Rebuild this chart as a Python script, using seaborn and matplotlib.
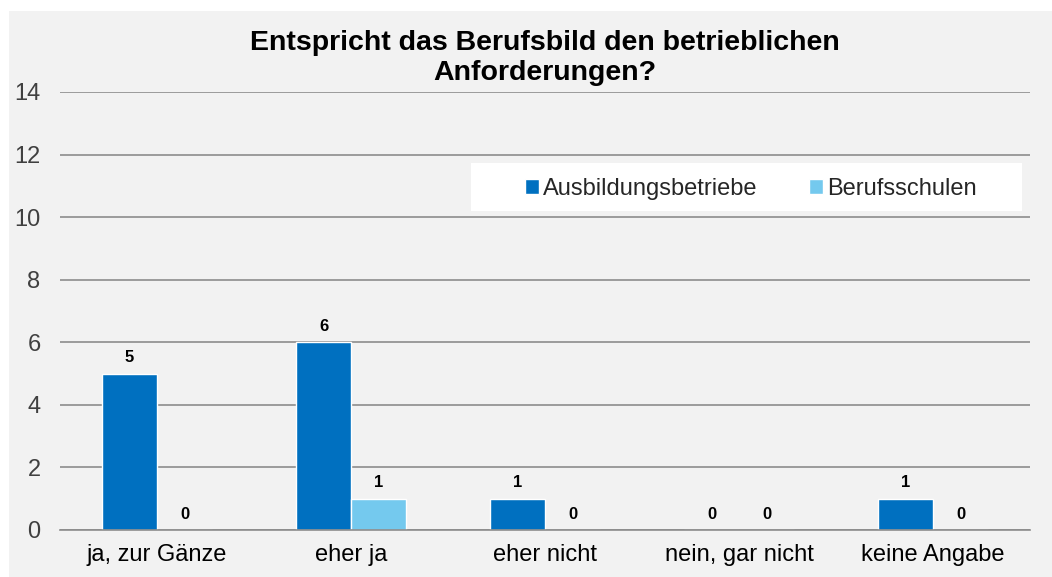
import pandas as pd
import matplotlib.pyplot as plt
import seaborn as sns
from matplotlib.patches import Rectangle

categories = ["ja, zur Gänze", "eher ja", "eher nicht", "nein, gar nicht", "keine Angabe"]
ausbildungsbetriebe = [5, 6, 1, 0, 1]
berufsschulen = [0, 1, 0, 0, 0]
series = ["Ausbildungsbetriebe", "Berufsschulen"]
colors = ["#0070C0", "#74C9EE"]
yticks = [0, 2, 4, 6, 8, 10, 12, 14]
title = "Entspricht das Berufsbild den betrieblichen\nAnforderungen?"

df = pd.DataFrame({
    "Kategorie": categories * 2,
    "Anzahl": ausbildungsbetriebe + berufsschulen,
    "Gruppe": [series[0]] * len(categories) + [series[1]] * len(categories),
})

sns.set_style("white")
plt.rcParams["font.family"] = ["Liberation Sans", "DejaVu Sans"]

W, H = 1052, 577
fig = plt.figure(figsize=(W / 100, H / 100), dpi=100)
fig.patch.set_facecolor("white")
bg = Rectangle((9 / W, 0), 1 - 9 / W, 1 - 11 / H, transform=fig.transFigure,
               facecolor="#F2F2F2", edgecolor="none", zorder=-10)
fig.add_artist(bg)

ax = fig.add_axes([60 / W, (H - 530) / H, 970 / W, 438 / H])
ax.set_facecolor("none")

sns.barplot(data=df, x="Kategorie", y="Anzahl", hue="Gruppe",
            palette=colors, width=0.567, gap=0, saturation=1,
            order=categories, hue_order=series, ax=ax, zorder=3)

for cont in ax.containers:
    ax.bar_label(cont, fmt="%d", padding=6, fontsize=12,
                 fontweight="bold", color="black")

ax.set_ylim(0, 14)
ax.set_xlim(-0.5, len(categories) - 0.5)
ax.set_yticks(yticks)
ax.yaxis.grid(True, color="#8C8C8C", linewidth=1.2, zorder=0)
ax.set_axisbelow(True)
for s in ["top", "right", "left"]:
    ax.spines[s].set_visible(False)
ax.spines["bottom"].set_color("#8C8C8C")
ax.spines["bottom"].set_linewidth(1.2)
ax.spines["bottom"].set_zorder(4)

ax.set_xticks([i - 0.5 for i in range(len(categories) + 1)], minor=True)
ax.tick_params(axis="x", which="minor", length=6, color="#8C8C8C", width=1.2)
ax.tick_params(axis="x", which="major", length=0, pad=10, labelsize=17,
               labelcolor="black")
ax.tick_params(axis="y", length=0, pad=14, labelsize=17, labelcolor="#404040")

ax.set_xlabel("")
ax.set_ylabel("")

ax.text(0.5, 1.077, title, transform=ax.transAxes, ha="center", va="center",
        fontsize=20.5, fontweight="bold", linespacing=1.22, color="black")

# white legend box
ax.add_patch(Rectangle((0.424, 0.728), 0.568, 0.11, transform=ax.transAxes,
                       facecolor="white", edgecolor="none", zorder=4))

handles, labels = ax.get_legend_handles_labels()
leg = ax.legend(handles, labels, ncol=2, loc="center",
                bbox_to_anchor=(0.7119, 0.7785), frameon=False, fontsize=17,
                handlelength=0.6, handleheight=0.6, handletextpad=0.15,
                borderpad=0, borderaxespad=0, columnspacing=2.2)
leg.set_zorder(5)

fig.savefig("out.png", dpi=100, facecolor=fig.get_facecolor())
